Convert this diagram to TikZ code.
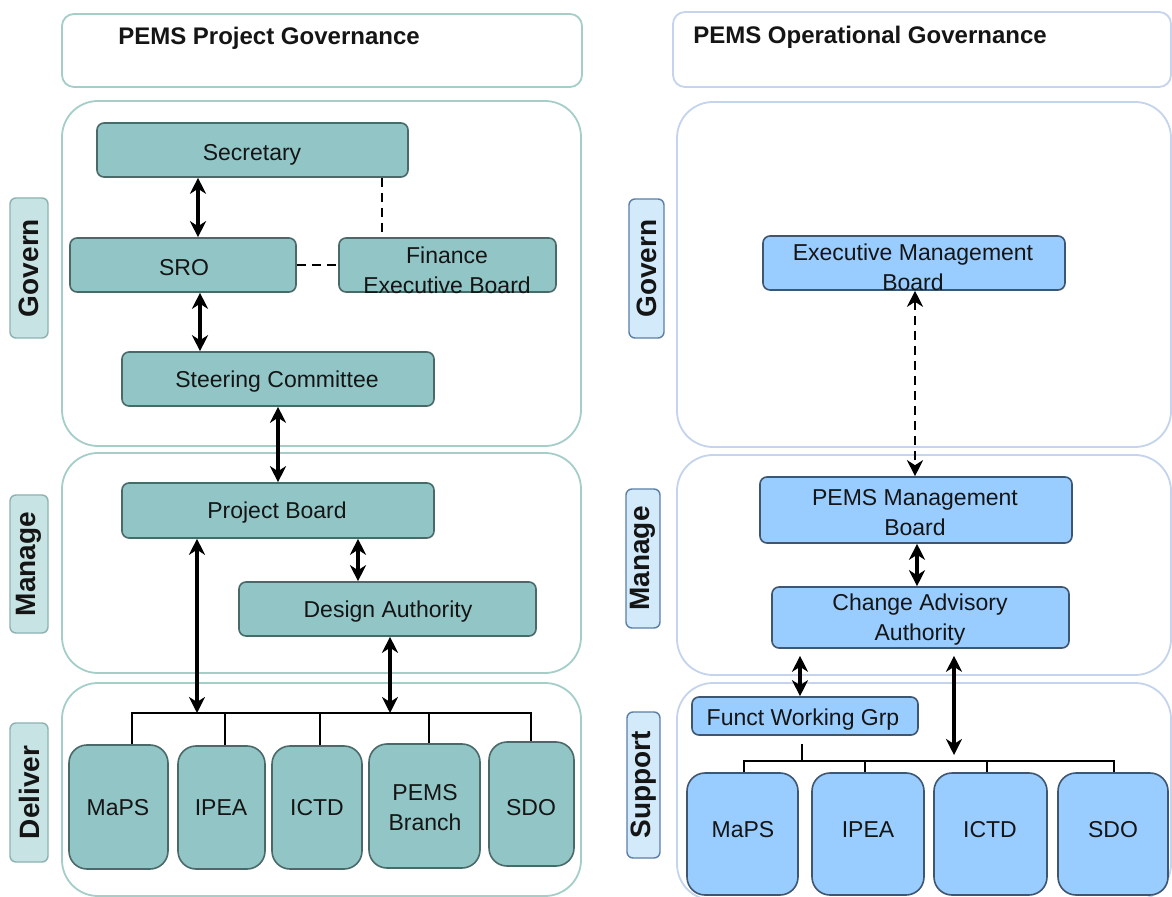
\documentclass[tikz,border=0pt]{standalone}
\usepackage{fontspec}
\setmainfont{Liberation Sans}
\usetikzlibrary{arrows.meta}
\definecolor{tealfill}{HTML}{92C5C6}
\definecolor{tealdraw}{HTML}{4A6A6A}
\definecolor{bluefill}{HTML}{99CCFF}
\definecolor{bluedraw}{HTML}{3F5670}
\definecolor{outerLc}{HTML}{A5CEC9}
\definecolor{outerRc}{HTML}{C3D4EC}
\definecolor{tagLfill}{HTML}{C8E3E4}
\definecolor{tagLdraw}{HTML}{8CB2B2}
\definecolor{tagRfill}{HTML}{D3EAFB}
\definecolor{tagRdraw}{HTML}{5B7FA6}
\definecolor{textc}{HTML}{151515}
\begin{document}
\begin{tikzpicture}[x=0.5pt,y=-0.5pt,
  outerL/.style={rectangle, draw=outerLc, line width=0.9pt, rounded corners=18pt, fill=white, inner sep=0pt},
  outerR/.style={rectangle, draw=outerRc, line width=0.9pt, rounded corners=18pt, fill=white, inner sep=0pt},
  titleL/.style={rectangle, draw=outerLc, line width=0.9pt, rounded corners=6pt, fill=white, inner sep=0pt},
  titleR/.style={rectangle, draw=outerRc, line width=0.9pt, rounded corners=6pt, fill=white, inner sep=0pt},
  tbox/.style={rectangle, rounded corners=3.5pt, line width=0.8pt, inner sep=0pt, fill=tealfill, draw=tealdraw},
  bbox/.style={rectangle, rounded corners=3.5pt, line width=0.8pt, inner sep=0pt, fill=bluefill, draw=bluedraw},
  tlow/.style={tbox, rounded corners=9pt},
  blow/.style={bbox, rounded corners=9pt},
  tagL/.style={rectangle, rounded corners=3pt, line width=0.7pt, inner sep=0pt, fill=tagLfill, draw=tagLdraw},
  tagR/.style={rectangle, rounded corners=3pt, line width=0.7pt, inner sep=0pt, fill=tagRfill, draw=tagRdraw},
  txt/.style={font=\fontsize{11.5}{15}\selectfont, align=center, text=textc, inner sep=0pt},
  ttl/.style={font=\fontsize{12}{14}\selectfont\bfseries, text=textc, inner sep=0pt},
  tagtxt/.style={font=\fontsize{14}{16}\selectfont\bfseries, rotate=90, text=textc, inner sep=0pt},
  tipb/.tip={Stealth[length=8pt,width=8pt,inset=2.5pt]},
  biarrow/.style={line width=1.6pt, tipb-tipb},
  dsh/.style={line width=1.3pt, dash pattern=on 4.5pt off 3pt},
  busline/.style={line width=1pt}
]
\useasboundingbox (0,0) rectangle (1172,897);
\fill[white] (0,0) rectangle (1172,897);

% ===== LEFT: PEMS Project Governance =====
\node[titleL, minimum width=260pt, minimum height=36.5pt] (titleLb) at (322,50.5) {};
\node[ttl] (titleLt) at (269,38) {PEMS Project Governance};

\node[outerL, minimum width=259.5pt, minimum height=172.5pt] (govL) at (321.5,273.5) {};
\node[outerL, minimum width=259.5pt, minimum height=110pt] (manL) at (321.5,563) {};
\node[outerL, minimum width=259.5pt, minimum height=106.5pt] (delL) at (321.5,789.5) {};

\node[tagL, minimum width=19pt, minimum height=70pt] (tagGovL) at (29,268) {};
\node[tagtxt] at (tagGovL) {Govern};
\node[tagL, minimum width=19pt, minimum height=69pt] (tagManL) at (29,564) {};
\node[tagtxt] at (tagManL) {Manage};
\node[tagL, minimum width=19pt, minimum height=69.5pt] (tagDelL) at (29,792.5) {};
\node[tagtxt] at (tagDelL) {Deliver};

\node[tbox, minimum width=155.5pt, minimum height=27pt] (sec) at (252.5,150) {};
\node[txt] at (252,155) {Secretary};
\node[tbox, minimum width=113pt, minimum height=27pt] (sro) at (183,265) {};
\node[txt] at (184,268) {SRO};
\node[tbox, minimum width=108.5pt, minimum height=27pt] (fin) at (447.5,265) {};
\node[txt] at (447,270) {Finance\\Executive Board};
\node[tbox, minimum width=156pt, minimum height=27pt] (steer) at (278,379) {};
\node[txt] at (277,382) {Steering Committee};
\node[tbox, minimum width=156pt, minimum height=27.5pt] (pb) at (278,510.5) {};
\node[txt] at (277,513) {Project Board};
\node[tbox, minimum width=148.5pt, minimum height=27pt] (da) at (387.5,609) {};
\node[txt] at (388,612) {Design Authority};

\node[tlow, minimum width=49.5pt, minimum height=62pt] (maps) at (118.5,807) {};
\node[txt] at (118,808) {MaPS};
\node[tlow, minimum width=43.5pt, minimum height=61.5pt] (ipea) at (221.5,807.5) {};
\node[txt] at (221,808) {IPEA};
\node[tlow, minimum width=45pt, minimum height=61.5pt] (ictd) at (317,807.5) {};
\node[txt] at (317,808) {ICTD};
\node[tlow, minimum width=55.5pt, minimum height=62pt] (pemsb) at (424.5,806) {};
\node[txt] at (425,808) {PEMS\\Branch};
\node[tlow, minimum width=42.5pt, minimum height=62pt] (sdo) at (531.5,804) {};
\node[txt] at (531,808) {SDO};

% left connectors
\coordinate (xA) at (198,0);
\coordinate (xB) at (200,0);
\coordinate (xC) at (382,0);
\coordinate (xE) at (358,0);
\draw[biarrow] (sec.south -| xA) -- (sro.north -| xA);
\draw[biarrow] (sro.south -| xB) -- (steer.north -| xB);
\draw[dsh] (sec.south -| xC) -- (fin.north -| xC);
\draw[dsh] (sro.east) -- (fin.west);
\draw[biarrow] (steer.south) -- (pb.north);
\draw[biarrow] (pb.south -| xE) -- (da.north -| xE);

\coordinate (busL1) at (132,713);
\coordinate (busL2) at (531,713);
\coordinate (dIPEA) at (225,713);
\coordinate (dICTD) at (320,713);
\coordinate (dPEMS) at (429,713);
\coordinate (xF) at (197,713);
\coordinate (xG) at (390,713);
\draw[busline] (maps.north -| busL1) -- (busL1) -- (busL2) -- (sdo.north -| busL2);
\draw[busline] (dIPEA) -- (ipea.north -| dIPEA);
\draw[busline] (dICTD) -- (ictd.north -| dICTD);
\draw[busline] (dPEMS) -- (pemsb.north -| dPEMS);
\draw[biarrow] (pb.south -| xF) -- (xF);
\draw[biarrow] (da.south -| xG) -- (xG);

% ===== RIGHT: PEMS Operational Governance =====
\node[titleR, minimum width=249pt, minimum height=37.5pt] (titleRb) at (922,49.5) {};
\node[ttl] (titleRt) at (870,37) {PEMS Operational Governance};

\node[outerR, minimum width=247pt, minimum height=172.5pt] (govR) at (924,274.5) {};
\node[outerR, minimum width=247pt, minimum height=110pt] (manR) at (924,565) {};
\node[outerR, minimum width=247pt, minimum height=108.5pt] (supR) at (924,791.5) {};

\node[tagR, minimum width=17.5pt, minimum height=69.5pt] (tagGovR) at (646.5,268.5) {};
\node[tagtxt] at (tagGovR) {Govern};
\node[tagR, minimum width=17pt, minimum height=69.5pt] (tagManR) at (643,558.5) {};
\node[tagtxt] at (tagManR) {Manage};
\node[tagR, minimum width=16.5pt, minimum height=73pt] (tagSupR) at (643.5,785) {};
\node[tagtxt] at (tagSupR) {Support};

\node[bbox, minimum width=151pt, minimum height=27pt] (emb) at (914,263) {};
\node[txt] at (913,267) {Executive Management\\Board};
\node[bbox, minimum width=156pt, minimum height=33pt] (pmb) at (916,510) {};
\node[txt] at (915,513) {PEMS Management\\Board};
\node[bbox, minimum width=148.5pt, minimum height=30.5pt] (caa) at (920.5,617.5) {};
\node[txt] at (920,620) {Change Advisory\\Authority};
\node[bbox, minimum width=113pt, minimum height=19pt] (fwg) at (805,716) {};
\node[txt] at (803,720) {Funct Working Grp};

\node[blow, minimum width=55.5pt, minimum height=61pt] (mapsR) at (742.5,834) {};
\node[txt] at (743,830) {MaPS};
\node[blow, minimum width=56pt, minimum height=61pt] (ipeaR) at (868,834) {};
\node[txt] at (868,830) {IPEA};
\node[blow, minimum width=56.5pt, minimum height=61pt] (ictdR) at (990.5,834) {};
\node[txt] at (990,830) {ICTD};
\node[blow, minimum width=55pt, minimum height=61pt] (sdoR) at (1113,834) {};
\node[txt] at (1113,830) {SDO};

% right connectors
\coordinate (xH) at (915,0);
\coordinate (xI) at (917,0);
\coordinate (xJ) at (800,0);
\coordinate (busR1) at (744,761);
\coordinate (busR2) at (1114,761);
\coordinate (dIPEAR) at (865,761);
\coordinate (dICTDR) at (987,761);
\coordinate (dFWG) at (802,761);
\coordinate (xK) at (954,761);
\draw[dsh, tipb-tipb] (emb.south -| xH) -- (pmb.north -| xH);
\draw[biarrow] (pmb.south -| xI) -- (caa.north -| xI);
\draw[biarrow] ([yshift=-3.5pt]caa.south -| xJ) -- (fwg.north -| xJ);
\draw[busline] (mapsR.north -| busR1) -- (busR1) -- (busR2) -- (sdoR.north -| busR2);
\draw[busline] (dIPEAR) -- (ipeaR.north -| dIPEAR);
\draw[busline] (dICTDR) -- (ictdR.north -| dICTDR);
\draw[busline] ([yshift=-4pt]fwg.south -| dFWG) -- (dFWG);
\draw[biarrow] ([yshift=-3.5pt]caa.south -| xK) -- ([yshift=3pt]xK);
\end{tikzpicture}
\end{document}
